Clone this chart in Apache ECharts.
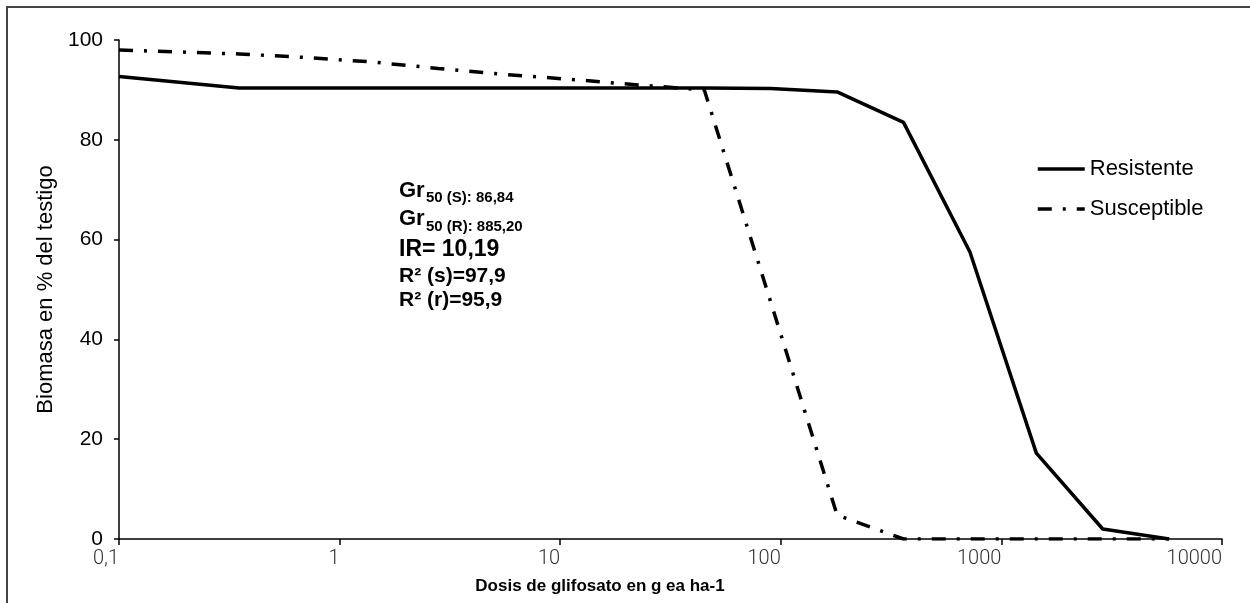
<!DOCTYPE html>
<html>
<head>
<meta charset="utf-8">
<title>Biomasa vs dosis de glifosato</title>
<script src="https://cdn.jsdelivr.net/npm/echarts@6.0.0/dist/echarts.min.js"></script>
<style>
  html, body { margin: 0; padding: 0; background: #fff; }
  #chart { width: 1250px; height: 603px; }
</style>
</head>
<body>
<div id="chart"></div>
<script>
// dosis (g ea ha-1) y biomasa (% del testigo)
var doses = [0.1, 0.35, 0.7, 1.4, 2.8, 5.6, 11.25, 22.5, 45, 90, 180, 360, 720, 1440, 2880, 5760];
var resistente = [92.7, 90.4, 90.4, 90.4, 90.4, 90.4, 90.4, 90.4, 90.4, 90.3, 89.6, 83.5, 57.5, 17.2, 2.0, 0];
var susceptible = [98.0, 97.2, 96.5, 95.6, 94.3, 93.1, 92.1, 91.0, 90.0, 47.5, 4.8, 0, 0, 0, 0, 0];
var seriesNames = ['Resistente', 'Susceptible'];
var xTickLabels = ['0,1', '1', '10', '100', '1000', '10000'];

var font = 'Liberation Sans, Arial, sans-serif';

function pairs(ys) {
    return doses.map(function (d, i) { return [d, ys[i]]; });
}

function boldText(txt, x, y, size) {
    return {
        type: 'text', x: x, y: y,
        style: { text: txt, fontFamily: font, fontSize: size, fontWeight: 'bold', fill: '#000', verticalAlign: 'middle' }
    };
}

var chart = echarts.init(document.getElementById('chart'));
var option = {
    animation: false,
    backgroundColor: '#fff',
    grid: { left: 119, right: 28, top: 40, bottom: 64 },
    xAxis: {
        type: 'log',
        logBase: 10,
        min: 0.1,
        max: 10000,
        axisLine: { lineStyle: { color: '#000', width: 1.5 } },
        axisTick: { show: true, length: 6, lineStyle: { color: '#000', width: 1.5 } },
        minorTick: { show: false },
        splitLine: { show: false },
        axisLabel: {
            align: 'right',
            margin: 10,
            fontFamily: 'Roboto, sans-serif',
            fontWeight: 300,
            fontSize: 20,
            color: '#333',
            formatter: function (v) {
                var k = Math.round(Math.log(v) / Math.LN10) + 1;
                return xTickLabels[k] || '';
            }
        }
    },
    yAxis: {
        type: 'value',
        min: 0,
        max: 100,
        interval: 20,
        name: 'Biomasa en % del testigo',
        nameLocation: 'middle',
        nameGap: 55,
        nameTextStyle: { fontFamily: font, fontSize: 22, color: '#000' },
        axisLine: { show: true, lineStyle: { color: '#000', width: 1.5 } },
        axisTick: { show: true, length: 5, lineStyle: { color: '#000', width: 1.5 } },
        splitLine: { show: false },
        axisLabel: { fontFamily: font, fontSize: 21, color: '#000', margin: 16 }
    },
    legend: {
        orient: 'vertical',
        left: 1031,
        top: 153,
        itemWidth: 47,
        itemHeight: 14,
        itemGap: 18,
        itemStyle: { opacity: 0 },
        lineStyle: { width: 3.5 },
        textStyle: { fontFamily: font, fontSize: 22, color: '#000' },
        data: seriesNames
    },
    series: [{
        name: seriesNames[1],
        type: 'line',
        symbol: 'none',
        z: 2,
        lineStyle: { color: '#000', width: 3.5, type: [14, 11, 3, 11] },
        itemStyle: { color: '#000' },
        data: pairs(susceptible)
    }, {
        name: seriesNames[0],
        type: 'line',
        symbol: 'none',
        z: 3,
        lineStyle: { color: '#000', width: 3.5, type: 'solid' },
        itemStyle: { color: '#000' },
        data: pairs(resistente)
    }],
    graphic: [
        { type: 'rect', shape: { x: 7, y: 7, width: 1300, height: 700 },
          style: { fill: 'none', stroke: '#444', lineWidth: 2 }, silent: true },
        { type: 'text', x: 600, y: 586,
          style: { text: 'Dosis de glifosato en g ea ha-1', fontFamily: font, fontSize: 17, fontWeight: 'bold',
                   fill: '#000', align: 'center', verticalAlign: 'middle' } },
        boldText('Gr', 399, 191, 22),
        boldText('50 (S): 86,84', 426, 198, 15),
        boldText('Gr', 399, 219, 22),
        boldText('50 (R): 885,20', 426, 227, 15),
        boldText('IR= 10,19', 399, 250, 23),
        boldText('R\u00b2 (s)=97,9', 399, 276, 21),
        boldText('R\u00b2 (r)=95,9', 399, 300, 21)
    ]
};
chart.setOption(option);
</script>
</body>
</html>
